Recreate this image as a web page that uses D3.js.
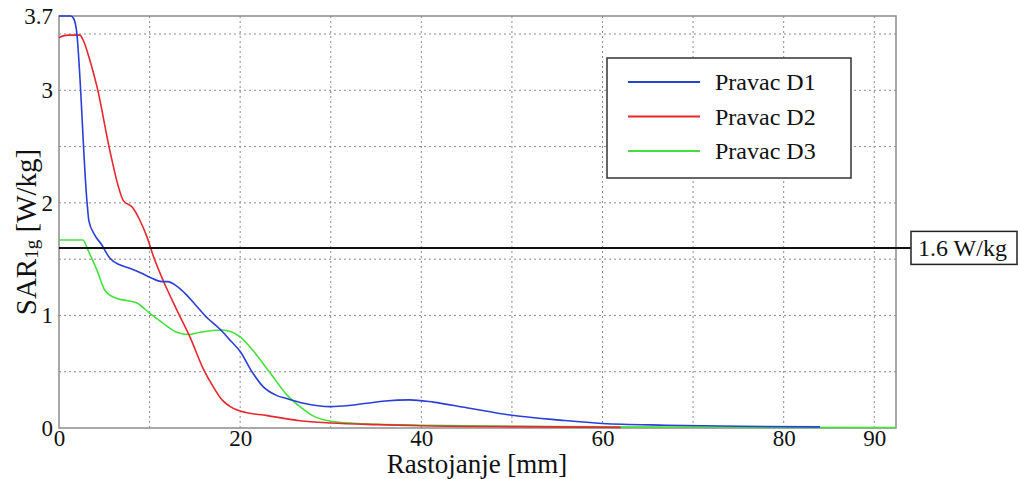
<!DOCTYPE html>
<html>
<head>
<meta charset="utf-8">
<script src="https://cdn.jsdelivr.net/npm/d3@7"></script>
</head>
<body style="margin:0">
<svg id="chart" width="1018" height="479"></svg>
<script>
// ---- data ----
const seriesNames = ["Pravac D1", "Pravac D2", "Pravac D3"];
const seriesColors = ["#2a3fd6", "#e8262e", "#44e03c"];

const d1X = [0, 1.3, 1.6, 1.9, 3.1, 3.3, 3.9, 4.7, 5.6, 6.7, 7.8, 9, 10, 11.4, 12, 13, 14.1, 15, 16.1, 18, 19, 20, 21.3, 22.5, 24, 25.2, 27, 30, 32, 34, 36, 38.7, 41.3, 45, 49.8, 55.3, 60, 67, 75, 84];
const d1Y = [3.66, 3.66, 3.64, 3.55, 2.0, 1.84, 1.72, 1.63, 1.51, 1.45, 1.42, 1.38, 1.34, 1.30, 1.30, 1.26, 1.18, 1.10, 1.0, 0.86, 0.77, 0.68, 0.5, 0.37, 0.29, 0.26, 0.22, 0.19, 0.2, 0.22, 0.24, 0.25, 0.23, 0.18, 0.115, 0.07, 0.04, 0.025, 0.015, 0.01];

const d2X = [0, 1, 2.3, 2.7, 3.4, 4.2, 5.6, 6.5, 7.1, 8.1, 8.9, 9.7, 10.4, 11.5, 13, 14.5, 15.9, 17, 18, 18.9, 20, 23, 26.6, 30, 35, 40, 50, 62];
const d2Y = [3.47, 3.49, 3.49, 3.44, 3.27, 3.03, 2.47, 2.16, 2.02, 1.96, 1.85, 1.70, 1.53, 1.31, 1.05, 0.8, 0.53, 0.37, 0.25, 0.19, 0.15, 0.11, 0.065, 0.045, 0.03, 0.02, 0.012, 0.006];

const d3X = [0, 2.65, 3.2, 4.2, 5.1, 6.4, 7.6, 8.6, 10, 11.5, 13, 14.3, 15.6, 18, 20, 21.4, 23.3, 25.2, 26.6, 28, 30, 33, 40, 50, 60, 75, 92.4];
const d3Y = [1.67, 1.67, 1.58, 1.40, 1.22, 1.15, 1.13, 1.11, 1.02, 0.93, 0.85, 0.83, 0.85, 0.87, 0.81, 0.69, 0.49, 0.29, 0.19, 0.11, 0.06, 0.04, 0.025, 0.015, 0.01, 0.006, 0.004];

const xTickLabels = [0, 20, 40, 60, 80, 90];
const xGridValues = [10, 20, 30, 40, 50, 60, 70, 80, 90];
const yTickLabels = [0, 1, 2, 3, 3.66];
const yGridValues = [0.5, 1, 1.5, 2, 2.5, 3, 3.5];
const limitValue = 1.6;
const limitLabel = "1.6 W/kg";
const xMax = 92.4, yMax = 3.66;

// ---- layout ----
const FONT = "Liberation Serif";
const svg = d3.select("#chart");
const pLeft = 59, pRight = 896, pTop = 16, pBottom = 428;
const x = d3.scaleLinear().domain([0, xMax]).range([pLeft, pRight]);
const y = d3.scaleLinear().domain([0, yMax]).range([pBottom, pTop]);

function styleText(sel, size) {
  return sel.style("font-family", FONT).style("font-size", size + "px").attr("fill", "#111");
}

// grid
const grid = svg.append("g");
grid.selectAll("line.v").data(xGridValues).join("line")
  .attr("x1", d => x(d)).attr("x2", d => x(d)).attr("y1", pTop).attr("y2", pBottom + 3)
  .attr("stroke", "#8a8a8a").attr("stroke-width", 1).attr("stroke-dasharray", "2,3");
grid.selectAll("line.h").data(yGridValues).join("line")
  .attr("x1", pLeft).attr("x2", pRight).attr("y1", d => y(d)).attr("y2", d => y(d))
  .attr("stroke", "#8a8a8a").attr("stroke-width", 1).attr("stroke-dasharray", "2,3");

// frame
svg.append("rect").attr("x", pLeft).attr("y", pTop).attr("width", pRight - pLeft).attr("height", pBottom - pTop)
  .attr("fill", "none").attr("stroke", "#8c8c8c").attr("stroke-width", 1.5);

// axes
const xAxis = d3.axisBottom(x).tickValues(xTickLabels).tickSize(0).tickPadding(2).tickFormat(d3.format("d"));
const gx = svg.append("g").attr("transform", `translate(0,${pBottom})`).call(xAxis);
gx.attr("font-family", null).attr("font-size", null);
gx.select(".domain").remove();
styleText(gx.selectAll("text"), 23);

const yAxis = d3.axisLeft(y).tickValues(yTickLabels).tickSize(0).tickPadding(6)
  .tickFormat(d => d === yMax ? "3.7" : d3.format("d")(d));
const gy = svg.append("g").attr("transform", `translate(${pLeft},0)`).call(yAxis);
gy.attr("font-family", null).attr("font-size", null);
gy.select(".domain").remove();
styleText(gy.selectAll("text"), 23);

// lines
const series = [
  { name: seriesNames[0], xs: d1X, ys: d1Y, color: seriesColors[0] },
  { name: seriesNames[1], xs: d2X, ys: d2Y, color: seriesColors[1] },
  { name: seriesNames[2], xs: d3X, ys: d3Y, color: seriesColors[2] }
];
const line = d3.line().x(d => x(d[0])).y(d => y(d[1])).curve(d3.curveMonotoneX);
[2, 1, 0].forEach(i => {
  const s = series[i];
  svg.append("path").datum(s.xs.map((v, k) => [v, s.ys[k]]))
    .attr("d", line).attr("fill", "none").attr("stroke", s.color).attr("stroke-width", 1.6);
});

// limit line
const boxX = 911, boxW = 106, boxH = 33;
svg.append("line").attr("x1", pLeft).attr("x2", boxX).attr("y1", y(limitValue)).attr("y2", y(limitValue))
  .attr("stroke", "#111").attr("stroke-width", 2);
svg.append("rect").attr("x", boxX).attr("y", y(limitValue) - boxH / 2).attr("width", boxW).attr("height", boxH)
  .attr("fill", "#fff").attr("stroke", "#222").attr("stroke-width", 1.5);
styleText(svg.append("text").attr("x", boxX + 7).attr("y", y(limitValue) + 8), 24).text(limitLabel);

// legend
const lg = svg.append("g").attr("transform", "translate(607,58)");
lg.append("rect").attr("width", 244).attr("height", 120).attr("fill", "#fff")
  .attr("stroke", "#333").attr("stroke-width", 1.5);
series.forEach((s, i) => {
  const cy = 24 + i * 34.5;
  lg.append("line").attr("x1", 21).attr("x2", 93).attr("y1", cy).attr("y2", cy)
    .attr("stroke", s.color).attr("stroke-width", 2);
  styleText(lg.append("text").attr("x", 108).attr("y", cy + 8), 24).text(s.name);
});

// axis titles
styleText(svg.append("text").attr("x", 477).attr("y", 473).attr("text-anchor", "middle"), 27)
  .text("Rastojanje [mm]");

const yl = styleText(svg.append("text").attr("transform", "translate(36,232) rotate(-90)")
  .attr("text-anchor", "middle"), 29);
yl.append("tspan").text("SAR");
yl.append("tspan").style("font-size", "19px").attr("dy", 2).text("1g");
yl.append("tspan").attr("dy", -2).text(" [W/kg]");
</script>
</body>
</html>
